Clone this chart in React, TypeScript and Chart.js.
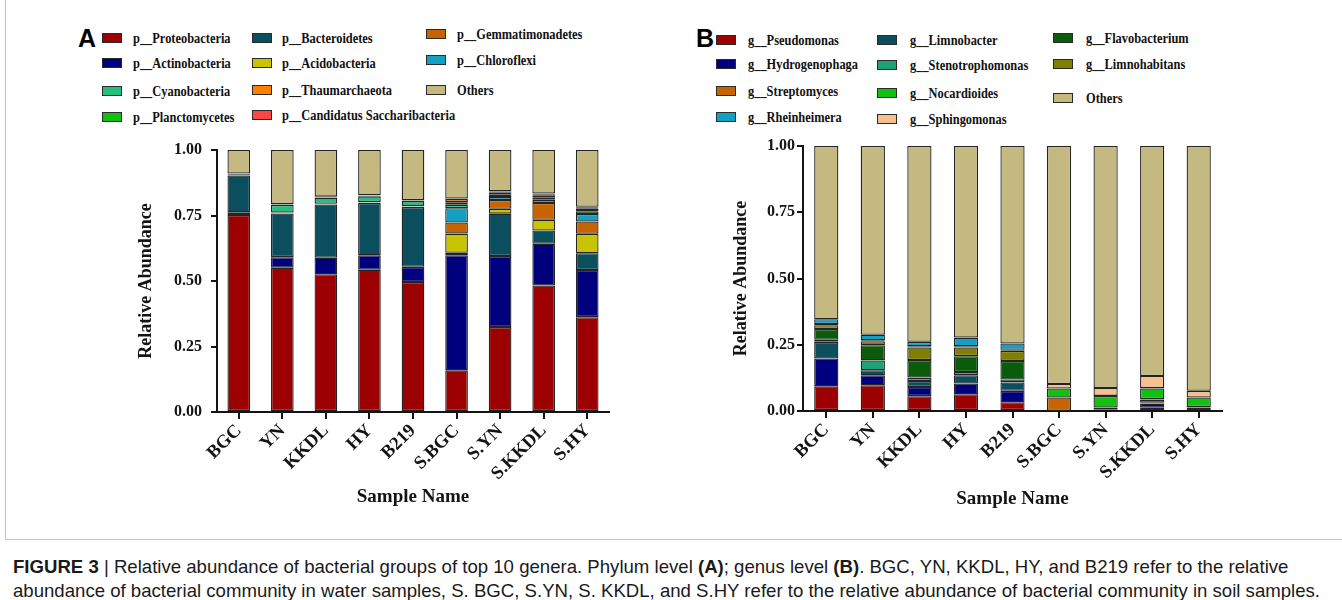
import React, { useEffect, useRef } from 'react';
import { Chart, registerables } from 'chart.js';

Chart.register(...registerables);

// ---------- data ----------
const samples = ['BGC', 'YN', 'KKDL', 'HY', 'B219', 'S.BGC', 'S.YN', 'S.KKDL', 'S.HY'];
const yTickValues = [0, 0.25, 0.5, 0.75, 1];

// Phylum level (A)
const proteobacteria = [0.752, 0.551, 0.526, 0.543, 0.496, 0.159, 0.324, 0.483, 0.362];
const actinobacteria = [0.010, 0.040, 0.063, 0.055, 0.058, 0.439, 0.271, 0.159, 0.180];
const bacteroidetes = [0.141, 0.167, 0.203, 0.200, 0.228, 0.010, 0.162, 0.051, 0.064];
const acidobacteria = [0.000, 0.001, 0.001, 0.001, 0.001, 0.073, 0.019, 0.041, 0.074];
const gemmatimonadetes = [0.000, 0.001, 0.001, 0.001, 0.001, 0.042, 0.033, 0.064, 0.047];
const chloroflexi = [0.000, 0.001, 0.001, 0.001, 0.001, 0.055, 0.012, 0.012, 0.029];
const cyanobacteria = [0.004, 0.029, 0.023, 0.022, 0.020, 0.013, 0.008, 0.008, 0.010];
const planctomycetes = [0.002, 0.002, 0.002, 0.002, 0.002, 0.010, 0.007, 0.007, 0.010];
const thaumarchaeota = [0.000, 0.001, 0.001, 0.001, 0.001, 0.012, 0.003, 0.004, 0.004];
const candidatusSaccharibacteria = [0.001, 0.001, 0.001, 0.001, 0.001, 0.002, 0.003, 0.005, 0.003];
const othersPhylum = [0.090, 0.206, 0.178, 0.173, 0.191, 0.185, 0.158, 0.166, 0.217];

// Genus level (B)
const pseudomonas = [0.093, 0.097, 0.056, 0.063, 0.033, 0.001, 0.003, 0.012, 0.004];
const hydrogenophaga = [0.105, 0.038, 0.035, 0.041, 0.043, 0.000, 0.002, 0.016, 0.004];
const streptomyces = [0.000, 0.000, 0.000, 0.000, 0.000, 0.050, 0.008, 0.003, 0.005];
const limnobacter = [0.063, 0.019, 0.022, 0.031, 0.032, 0.000, 0.000, 0.012, 0.002];
const stenotrophomonas = [0.008, 0.037, 0.013, 0.012, 0.011, 0.000, 0.000, 0.002, 0.000];
const nocardioides = [0.000, 0.000, 0.000, 0.000, 0.000, 0.034, 0.044, 0.040, 0.036];
const flavobacterium = [0.040, 0.057, 0.066, 0.060, 0.070, 0.000, 0.000, 0.002, 0.000];
const limnohabitans = [0.015, 0.015, 0.048, 0.033, 0.038, 0.000, 0.000, 0.000, 0.000];
const sphingomonas = [0.004, 0.004, 0.004, 0.004, 0.004, 0.017, 0.030, 0.045, 0.025];
const rheinheimera = [0.018, 0.021, 0.017, 0.033, 0.024, 0.000, 0.000, 0.000, 0.000];
const othersGenus = [0.654, 0.712, 0.739, 0.723, 0.745, 0.898, 0.913, 0.868, 0.924];

// ---------- styles ----------
const C = {
  red: '#9c0000',
  navy: '#00007e',
  teal: '#0b4f5f',
  yellow: '#c9c400',
  brown: '#c86400',
  cyan: '#14a0c0',
  cyano: '#22c07e',
  green: '#12c012',
  orange: '#ff8000',
  pink: '#ff4646',
  others: '#c5b982',
  seagreen: '#1ca276',
  peach: '#f6bf8c',
  darkgreen: '#0a5c0a',
  olive: '#808000',
};

type Series = { label: string; data: number[]; color: string };

const phylumSeries: Series[] = [
  { label: 'p__Proteobacteria', data: proteobacteria, color: C.red },
  { label: 'p__Actinobacteria', data: actinobacteria, color: C.navy },
  { label: 'p__Bacteroidetes', data: bacteroidetes, color: C.teal },
  { label: 'p__Acidobacteria', data: acidobacteria, color: C.yellow },
  { label: 'p__Gemmatimonadetes', data: gemmatimonadetes, color: C.brown },
  { label: 'p__Chloroflexi', data: chloroflexi, color: C.cyan },
  { label: 'p__Cyanobacteria', data: cyanobacteria, color: C.cyano },
  { label: 'p__Planctomycetes', data: planctomycetes, color: C.green },
  { label: 'p__Thaumarchaeota', data: thaumarchaeota, color: C.orange },
  { label: 'p__Candidatus Saccharibacteria', data: candidatusSaccharibacteria, color: C.pink },
  { label: 'Others', data: othersPhylum, color: C.others },
];

const genusSeries: Series[] = [
  { label: 'g__Pseudomonas', data: pseudomonas, color: C.red },
  { label: 'g__Hydrogenophaga', data: hydrogenophaga, color: C.navy },
  { label: 'g__Streptomyces', data: streptomyces, color: C.brown },
  { label: 'g__Limnobacter', data: limnobacter, color: C.teal },
  { label: 'g__Stenotrophomonas', data: stenotrophomonas, color: C.seagreen },
  { label: 'g__Nocardioides', data: nocardioides, color: C.green },
  { label: 'g__Flavobacterium', data: flavobacterium, color: C.darkgreen },
  { label: 'g__Limnohabitans', data: limnohabitans, color: C.olive },
  { label: 'g__Sphingomonas', data: sphingomonas, color: C.peach },
  { label: 'g__Rheinheimera', data: rheinheimera, color: C.cyan },
  { label: 'Others', data: othersGenus, color: C.others },
];

// legend layout: [label, colour, swatchX, textX, centreY]
const legendA: [string, string, number, number, number][] = [
  ['p__Proteobacteria', C.red, 102, 133, 38],
  ['p__Actinobacteria', C.navy, 102, 133, 63],
  ['p__Cyanobacteria', C.cyano, 102, 133, 91],
  ['p__Planctomycetes', C.green, 102, 133, 117],
  ['p__Bacteroidetes', C.teal, 252, 282, 37.5],
  ['p__Acidobacteria', C.yellow, 252, 282, 63],
  ['p__Thaumarchaeota', C.orange, 252, 282, 89.5],
  ['p__Candidatus Saccharibacteria', C.pink, 252, 282, 114.5],
  ['p__Gemmatimonadetes', C.brown, 426, 457, 33.5],
  ['p__Chloroflexi', C.cyan, 426, 457, 60],
  ['Others', C.others, 426, 457, 90],
];
const legendB: [string, string, number, number, number][] = [
  ['g__Pseudomonas', C.red, 716, 748, 39.5],
  ['g__Hydrogenophaga', C.navy, 716, 748, 63.5],
  ['g__Streptomyces', C.brown, 716, 748, 91],
  ['g__Rheinheimera', C.cyan, 716, 748, 117],
  ['g__Limnobacter', C.teal, 877, 910, 39.5],
  ['g__Stenotrophomonas', C.seagreen, 877, 910, 64.5],
  ['g__Nocardioides', C.green, 877, 910, 93],
  ['g__Sphingomonas', C.peach, 877, 910, 118.5],
  ['g__Flavobacterium', C.darkgreen, 1053, 1086, 37.5],
  ['g__Limnohabitans', C.olive, 1053, 1086, 63.5],
  ['Others', C.others, 1053, 1086, 97.5],
];

const SERIF = "'Liberation Serif', 'Times New Roman', serif";
const INK = '#141414';

type Geom = {
  padTop: number;
  padRight: number;
  yWidth: number;
  xHeight: number;
  yTickPad: number;
  tickLen: number;
};

function buildConfig(series: Series[], g: Geom): any {
  return {
    type: 'bar',
    data: {
      labels: samples,
      datasets: series.map((s) => ({
        label: s.label,
        data: s.data,
        backgroundColor: s.color,
        borderColor: '#242424',
        borderWidth: 1.3,
        borderSkipped: false,
        barPercentage: 0.52,
        categoryPercentage: 1,
      })),
    },
    options: {
      animation: false,
      responsive: false,
      maintainAspectRatio: false,
      layout: { padding: { top: g.padTop, right: g.padRight, bottom: 0, left: 0 } },
      plugins: { legend: { display: false }, tooltip: { enabled: false } },
      scales: {
        x: {
          stacked: true,
          grid: {
            display: true,
            drawOnChartArea: false,
            drawTicks: true,
            tickLength: 7,
            offset: false,
            color: INK,
            lineWidth: 2,
          },
          border: { display: true, color: INK, width: 2 },
          ticks: {
            autoSkip: false,
            maxRotation: 45,
            minRotation: 45,
            padding: 1,
            color: INK,
            font: { family: SERIF, size: 18.5, weight: 'bold' },
          },
          title: {
            display: true,
            text: 'Sample Name',
            color: INK,
            font: { family: SERIF, size: 19, weight: 'bold' },
          },
          afterFit: (s: any) => {
            s.height = g.xHeight;
          },
        },
        y: {
          stacked: true,
          min: 0,
          max: 1,
          afterBuildTicks: (s: any) => {
            s.ticks = yTickValues.map((v) => ({ value: v }));
          },
          ticks: {
            callback: (v: any) => Number(v).toFixed(2),
            padding: g.yTickPad,
            color: INK,
            font: { family: SERIF, size: 16, weight: 'bold' },
          },
          grid: {
            display: true,
            drawOnChartArea: false,
            drawTicks: true,
            tickLength: g.tickLen,
            color: INK,
            lineWidth: 2,
          },
          border: { display: true, color: INK, width: 2 },
          title: {
            display: true,
            text: 'Relative Abundance',
            color: INK,
            font: { family: SERIF, size: 18, weight: 'bold' },
          },
          afterFit: (s: any) => {
            s.width = g.yWidth;
          },
        },
      },
    },
  };
}

function BarChart(props: {
  series: Series[];
  geom: Geom;
  left: number;
  top: number;
  width: number;
  height: number;
}) {
  const ref = useRef<HTMLCanvasElement | null>(null);
  useEffect(() => {
    if (!ref.current) return;
    const chart = new Chart(ref.current, buildConfig(props.series, props.geom));
    return () => chart.destroy();
  }, []);
  return (
    <canvas
      ref={ref}
      width={props.width}
      height={props.height}
      style={{
        position: 'absolute',
        left: props.left,
        top: props.top,
        width: props.width,
        height: props.height,
      }}
    />
  );
}

function Legend(props: { items: [string, string, number, number, number][] }) {
  return (
    <>
      {props.items.map(([label, color, sx, tx, cy]) => (
        <React.Fragment key={label}>
          <div
            style={{
              position: 'absolute',
              left: sx,
              top: cy - 5,
              width: 18,
              height: 8,
              background: color,
              border: '1px solid #2a2a2a',
            }}
          />
          <div
            style={{
              position: 'absolute',
              left: tx,
              top: cy - 10,
              height: 20,
              lineHeight: '20px',
              fontFamily: SERIF,
              fontWeight: 'bold',
              fontSize: 15.5,
              color: '#111',
              whiteSpace: 'nowrap',
              transform: 'scaleX(0.8)',
              transformOrigin: 'left center',
            }}
          >
            {label}
          </div>
        </React.Fragment>
      ))}
    </>
  );
}

const CAPTION_FONT = "'Liberation Sans', Arial, sans-serif";

export default function App() {
  return (
    <div
      style={{
        position: 'fixed',
        left: 0,
        top: 0,
        width: 1342,
        height: 600,
        background: '#fff',
        overflow: 'hidden',
      }}
    >
      <div
        style={{
          position: 'absolute',
          left: 5,
          top: -2,
          width: 1400,
          height: 542,
          border: '1px solid #c4c4c4',
          boxSizing: 'border-box',
        }}
      />
      <div
        style={{
          position: 'absolute',
          left: 78,
          top: 24,
          fontFamily: "'Liberation Sans', Arial, sans-serif",
          fontWeight: 'bold',
          fontSize: 25,
          lineHeight: '28px',
          color: '#000',
        }}
      >
        A
      </div>
      <div
        style={{
          position: 'absolute',
          left: 696,
          top: 24,
          fontFamily: "'Liberation Sans', Arial, sans-serif",
          fontWeight: 'bold',
          fontSize: 25,
          lineHeight: '28px',
          color: '#000',
        }}
      >
        B
      </div>
      <Legend items={legendA} />
      <Legend items={legendB} />
      <BarChart
        series={phylumSeries}
        geom={{ padTop: 20, padRight: 31, yWidth: 85, xHeight: 100, yTickPad: 9, tickLen: 6 }}
        left={132}
        top={130}
        width={508}
        height={382}
      />
      <BarChart
        series={genusSeries}
        geom={{ padTop: 20, padRight: 28, yWidth: 76, xHeight: 103, yTickPad: 2, tickLen: 6 }}
        left={727}
        top={126}
        width={523}
        height={388}
      />
      <div
        style={{
          position: 'absolute',
          left: 13,
          top: 555,
          fontFamily: CAPTION_FONT,
          fontSize: 18.6,
          lineHeight: '24px',
          color: '#1a1a1a',
          whiteSpace: 'nowrap',
        }}
      >
        <b>FIGURE 3</b> | Relative abundance of bacterial groups of top 10 genera. Phylum level <b>(A)</b>;
        genus level <b>(B)</b>. BGC, YN, KKDL, HY, and B219 refer to the relative
        <br />
        abundance of bacterial community in water samples, S. BGC, S.YN, S. KKDL, and S.HY refer to the
        relative abundance of bacterial community in soil samples.
      </div>
    </div>
  );
}
